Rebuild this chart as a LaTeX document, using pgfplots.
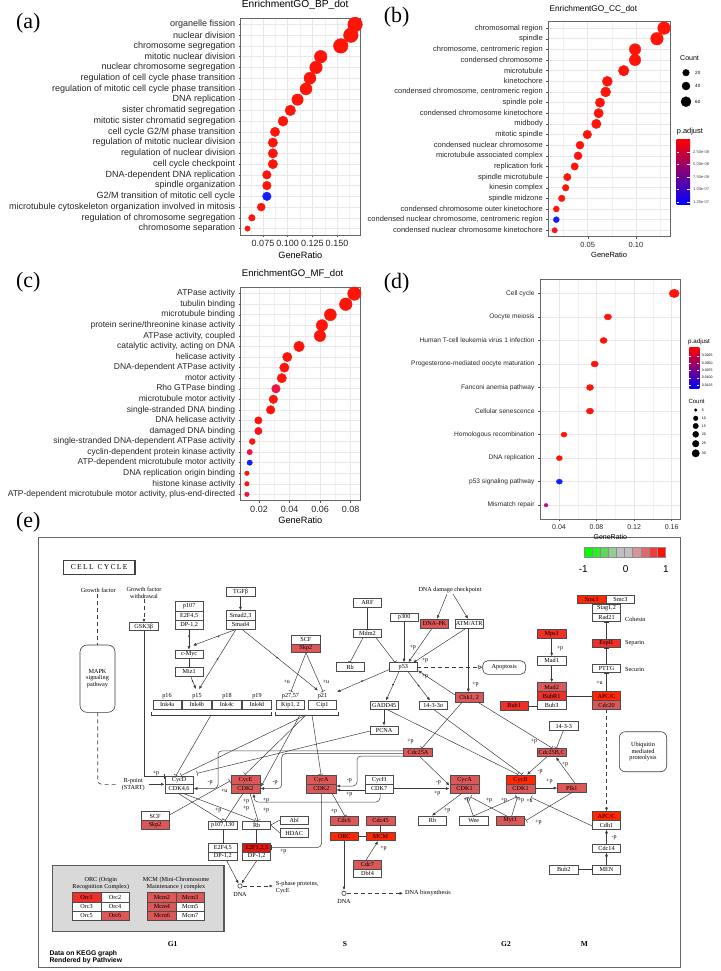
\documentclass[border=0pt]{standalone}
\usepackage{fontspec}
\setmainfont{Liberation Sans}
\newfontfamily\kf{Liberation Serif}
\usepackage{pgfplots}
\pgfplotsset{compat=1.18}
\usetikzlibrary{arrows.meta}
\definecolor{kmed}{RGB}{220,88,88}
\definecolor{kbri}{RGB}{255,40,0}
\definecolor{khi}{RGB}{238,48,42}
\definecolor{kdrk}{RGB}{225,25,15}
\definecolor{kline}{RGB}{60,60,60}
\definecolor{pred}{RGB}{255,0,0}
\definecolor{pmag}{RGB}{195,0,145}
\definecolor{pblu}{RGB}{0,0,255}
\pgfplotsset{
  colormap={rb}{rgb255=(255,20,10) rgb255=(232,20,80) rgb255=(195,10,145) rgb255=(140,10,200) rgb255=(20,30,255)},
  gdot/.style={
    scale only axis, anchor=north west, y dir=reverse,
    axis line style={draw=black!60, line width=0.5pt},
    tick align=outside, xtick pos=bottom, ytick pos=left,
    major tick length=2pt, minor tick length=0pt,
    tick style={draw=black!70, line width=0.4pt},
    xmajorgrids, ymajorgrids, xminorgrids,
    major grid style={draw=black!9, line width=0.55pt},
    minor grid style={draw=black!5, line width=0.3pt},
    colormap name=rb, point meta min=0, point meta max=1,
    tick label style={text=black!85},
    scaled x ticks=false,
    title style={at={(0,1)}, anchor=south west, inner sep=1pt, yshift=1.5pt},
    xlabel style={inner sep=1pt},
    ytick={0,...,19},
  },
  gsc/.style={scatter, only marks, mark=*, scatter src=explicit,
    scatter/use mapped color={draw=mapped color, fill=mapped color},
    visualization depends on={\thisrow{r} \as \rad},
    scatter/@pre marker code/.append style={/tikz/mark size=\rad}},
}
\tikzset{
  kt/.style={font=\kf\fontsize{6.2}{6.6}\selectfont, inner sep=0pt, align=center},
  pl/.style={font=\kf\fontsize{6}{6}\selectfont, inner sep=0pt},
  ar/.style={kline, line width=0.5pt, -{Latex[length=3.5pt,width=3pt]}},
  inh/.style={kline, line width=0.5pt, -{Bar[width=5pt]}},
  ln/.style={kline, line width=0.5pt},
  dsh/.style={kline, line width=0.6pt, dash pattern=on 4pt off 3pt},
}
\newcommand\kb[6]{\filldraw[fill=#5,draw=black!70,line width=0.45pt] (#1,#2) rectangle (#3,#4); \node[kt] at ({0.5*(#1+#3)},{0.5*(#2+#4)}) {#6};}
\begin{document}
\begin{tikzpicture}
\path[use as bounding box] (0pt,0pt) rectangle (720pt,-971pt);
% ---------------- frame axis: panel (e), legends, panel letters ----------------
\begin{axis}[at={(0pt,0pt)}, anchor=north west, scale only axis, width=720pt, height=971pt,
  xmin=0, xmax=720, ymin=0, ymax=971, y dir=reverse, hide axis, clip=false]
% panel letters
\node[font=\kf\fontsize{22}{22}\selectfont] at (28.3,23.3) {(a)};
\node[font=\kf\fontsize{22}{22}\selectfont] at (396.7,16.7) {(b)};
\node[font=\kf\fontsize{22}{22}\selectfont] at (28.3,281.7) {(c)};
\node[font=\kf\fontsize{22}{22}\selectfont] at (396.7,283.3) {(d)};
\node[font=\kf\fontsize{22}{22}\selectfont] at (28.3,521.7) {(e)};
% ---- legend of (b)
\node[anchor=west, font=\fontsize{7}{7}\selectfont, inner sep=0pt] at (680,58) {Count};
\addplot[only marks, mark=*, black, mark size=3.3pt] coordinates {(686,72.7)};
\addplot[only marks, mark=*, black, mark size=4pt] coordinates {(686,86)};
\addplot[only marks, mark=*, black, mark size=5pt] coordinates {(686,101.7)};
\node[anchor=west, font=\fontsize{4.6}{5}\selectfont, inner sep=0pt] at (695,72.7) {20};
\node[anchor=west, font=\fontsize{4.6}{5}\selectfont, inner sep=0pt] at (695,86) {40};
\node[anchor=west, font=\fontsize{4.6}{5}\selectfont, inner sep=0pt] at (695,101.7) {60};
\node[anchor=west, font=\fontsize{7.4}{7.4}\selectfont, inner sep=0pt] at (676.7,131.7) {p.adjust};
\shade[top color=pred, middle color=pmag, bottom color=pblu] (676.7,139.3) rectangle (690,204);
\foreach \yy/\tt in {151.7/2.50e-08,164.2/5.00e-08,176.7/7.50e-08,189.2/1.00e-07,201.7/1.25e-07}{
  \edef\temp{\noexpand\draw[white,line width=0.4pt] (676.7,\yy)--(679.3,\yy) (687.4,\yy)--(690,\yy);
  \noexpand\node[anchor=west, font=\noexpand\fontsize{4}{4}\noexpand\selectfont, inner sep=0pt, text=black!75] at (693,\yy) {\tt};}\temp}
% ---- legend of (d)
\node[anchor=west, font=\fontsize{6.2}{6.2}\selectfont, inner sep=0pt] at (688,341.7) {p.adjust};
\shade[top color=pred, middle color=pmag, bottom color=pblu] (689.3,347.3) rectangle (699.3,388.3);
\foreach \yy/\tt in {355.7/0.0025,363/0.0050,370.3/0.0075,377.7/0.0100,385.3/0.0125}{
  \edef\temp{\noexpand\draw[white,line width=0.3pt] (689.3,\yy)--(691.3,\yy) (697.3,\yy)--(699.3,\yy);
  \noexpand\node[anchor=west, font=\noexpand\fontsize{3.5}{3.5}\noexpand\selectfont, inner sep=0pt] at (701.7,\yy) {\tt};}\temp}
\node[anchor=west, font=\fontsize{6}{6}\selectfont, inner sep=0pt] at (688.3,401) {Count};
\addplot[only marks, mark=*, black, mark size=1.3pt] coordinates {(695.7,410)};
\addplot[only marks, mark=*, black, mark size=2.3pt] coordinates {(695.7,418.3)};
\addplot[only marks, mark=*, black, mark size=2.7pt] coordinates {(695.7,426)};
\addplot[only marks, mark=*, black, mark size=3pt] coordinates {(695.7,434.3)};
\addplot[only marks, mark=*, black, mark size=3.3pt] coordinates {(695.7,443.7)};
\addplot[only marks, mark=*, black, mark size=3.7pt] coordinates {(695.7,453.3)};
\foreach \yy/\tt in {410/5,418.3/10,426/15,434.3/20,443.7/25,453.3/30}{
  \edef\temp{\noexpand\node[anchor=west, font=\noexpand\fontsize{3.6}{3.6}\noexpand\selectfont, inner sep=0pt] at (701.7,\yy) {\tt};}\temp}
% ================= panel (e) =================
\draw[black!60, line width=1pt] (38.3,537) rectangle (680,967.7);
% colour key
\filldraw[fill={rgb,255:red,0;green,255;blue,0}, draw=black!45, line width=0.3pt] (584,546.7) rectangle (592.1,557.3);
\filldraw[fill={rgb,255:red,45;green,235;blue,45}, draw=black!45, line width=0.3pt] (592.1,546.7) rectangle (600.2,557.3);
\filldraw[fill={rgb,255:red,95;green,215;blue,95}, draw=black!45, line width=0.3pt] (600.2,546.7) rectangle (608.3,557.3);
\filldraw[fill={rgb,255:red,145;green,205;blue,145}, draw=black!45, line width=0.3pt] (608.3,546.7) rectangle (616.4,557.3);
\filldraw[fill={rgb,255:red,192;green,192;blue,192}, draw=black!45, line width=0.3pt] (616.4,546.7) rectangle (624.5,557.3);
\filldraw[fill={rgb,255:red,192;green,192;blue,192}, draw=black!45, line width=0.3pt] (624.5,546.7) rectangle (632.6,557.3);
\filldraw[fill={rgb,255:red,212;green,150;blue,150}, draw=black!45, line width=0.3pt] (632.6,546.7) rectangle (640.7,557.3);
\filldraw[fill={rgb,255:red,226;green,105;blue,105}, draw=black!45, line width=0.3pt] (640.7,546.7) rectangle (648.8,557.3);
\filldraw[fill={rgb,255:red,240;green,60;blue,60}, draw=black!45, line width=0.3pt] (648.8,546.7) rectangle (656.9,557.3);
\filldraw[fill={rgb,255:red,255;green,15;blue,0}, draw=black!45, line width=0.3pt] (656.9,546.7) rectangle (665,557.3);
\node[font=\fontsize{10}{10}\selectfont, inner sep=0pt] at (583.3,569.3) {-1};
\node[font=\fontsize{10}{10}\selectfont, inner sep=0pt] at (625.7,569.3) {0};
\node[font=\fontsize{10}{10}\selectfont, inner sep=0pt] at (666,569.3) {1};
% title box
\draw[black!75, line width=1.1pt] (63.3,560.7) rectangle (135,574.3);
\node[font=\kf\fontsize{7.6}{8}\selectfont, inner sep=0pt] at (99.2,567.5) {C\,E\,L\,L\ \ C\,Y\,C\,L\,E};
% growth factor
\node[kt] at (98.3,590) {Growth factor};
\node[kt, anchor=north] at (144,587) {Growth factor\\withdrawal};
\draw[dsh] (97.7,594) -- (97.7,645);
\draw[dsh, rounded corners=4pt] (97.7,712.3) |- (117,784.3);
\node[kt] at (133.3,784.7) {R-point\\(START)};
\draw[ar] (149,784.3) -- (164.5,784.3);
\draw[kline, line width=0.6pt, rounded corners=7pt] (80,645) rectangle (115,712.3);
\node[kt] at (97.5,678.5) {MAPK\\signaling\\pathway};
\draw[dsh, -{Latex[length=3.5pt,width=3pt]}] (144,599) -- (144,622.3);
\kb{129.3}{622.7}{158.3}{630.7}{white}{GSK3β}
\draw[inh] (144,630.7) |- (164.7,776.7);
\node[pl] at (156,773.3) {+p};
% p107 / TGFb
\kb{175}{601.7}{203.3}{610.9}{white}{p107}
\kb{175}{610.9}{203.3}{620.1}{white}{E2F4,5}
\kb{175}{620.1}{203.3}{629.3}{white}{DP-1,2}
\kb{226}{587.7}{255}{596.7}{white}{TGFβ}
\kb{226}{610.7}{255}{620}{white}{Smad2,3}
\kb{226}{620}{255}{629.3}{white}{Smad4}
\draw[ar] (240.5,596.7) -- (240.5,610.3);
\kb{175}{650}{203.3}{658.3}{white}{c-Myc}
\kb{175}{667.7}{203.3}{676}{white}{Miz1}
\draw[ar] (189,629.3) -- (189,649.6);
\fill[kline] (189,636) circle (1pt);
\draw[ar] (236,629.3) -- (193,645.5);
\fill[kline] (218.3,636.5) circle (1pt);
\draw[inh] (189,658.3) -- (189,667.4);
\draw[ar] (190.5,676) -- (196,689);
\fill[kline] (192.5,681) circle (1pt);
\draw[ar] (236,629.3) -- (199,689.2);
\fill[kline] (217.5,659) circle (1pt);
\draw[ar] (242,629.3) -- (318,690.5);
\fill[kline] (277,657.5) circle (1pt);
% Ink4 and CKI
\node[kt] at (167,696) {p16};
\node[kt] at (197,696) {p15};
\node[kt] at (227,696) {p18};
\node[kt] at (257,696) {p19};
\kb{153.3}{700.7}{181}{709}{white}{Ink4a}
\kb{182.7}{700.7}{211}{709}{white}{Ink4b}
\kb{212.7}{700.7}{241}{709}{white}{Ink4c}
\kb{242.7}{700.7}{271}{709}{white}{Ink4d}
\draw[ln] (151.7,711.7) -- (151.7,715) -- (271.7,715) -- (271.7,711.7);
\node[kt] at (290.5,696) {p27,57};
\node[kt] at (322.5,696) {p21};
\kb{276.7}{700.7}{304.3}{709}{white}{Kip1, 2}
\kb{308.3}{700.7}{336.7}{709}{white}{Cip1}
\draw[ln] (275,711.7) -- (275,715) -- (338.3,715) -- (338.3,711.7);
\kb{291.7}{635}{320}{643.8}{white}{SCF}
\kb{291.7}{643.8}{320}{652.7}{kmed}{Skp2}
\draw[inh] (306,652.7) -- (291,691.5);
\draw[inh] (306,652.7) -- (323,691.5);
\node[pl] at (286.7,681.7) {+u};
\node[pl] at (326,681.7) {+u};
% p53 block
\kb{353.3}{598}{381.7}{607.7}{white}{ARF}
\kb{353.3}{629.3}{381.7}{637.7}{white}{Mdm2}
\kb{336}{662.7}{364.3}{671.7}{white}{Rb}
\draw[inh] (367.5,607.7) -- (367.5,629);
\draw[inh] (363,637.7) -- (350,662.4);
\draw[inh] (376,637.7) -- (395,662.4);
\node[kt] at (450,590) {DNA damage checkpoint};
\kb{390}{613.3}{418.3}{621.7}{white}{p300}
\kb{420.7}{619.3}{448.3}{628.3}{kmed}{DNA-PK}
\kb{455}{619.3}{483.3}{628.3}{white}{ATM/ATR}
\draw[ar] (447,594) -- (437,618.8);
\draw[ar] (453,594) -- (468,618.8);
\kb{389.3}{662.7}{417.3}{671.7}{white}{p53}
\draw[ar] (404,621.7) -- (404,662.2);
\draw[ar] (432,628.3) -- (408.5,662.2);
\draw[ar] (466,628.3) -- (413,662.8);
\node[pl] at (412.7,647.3) {+p};
\node[pl] at (425,660.7) {+p};
\draw[ar] (468.3,628.3) -- (468.3,692.2);
\node[pl] at (475.5,684) {+p};
\kb{455}{692.7}{483.3}{702.3}{kmed}{Chk1, 2}
\draw[ar] (455,695) -- (418,670.5);
\node[pl] at (425,676.5) {+p};
\draw[dsh, -{Triangle[open,length=4pt,width=4pt]}] (417.3,667.2) -- (482.3,667.2);
\draw[kline, line width=0.6pt, rounded corners=5pt] (482.7,660.7) rectangle (525.7,674.3);
\node[kt] at (504.2,667.5) {Apoptosis};
\kb{370}{701}{398.3}{709}{white}{GADD45}
\kb{419.3}{701}{447.3}{709}{white}{14-3-3σ}
\draw[ar] (399,671.7) -- (386,700.5);
\fill[kline] (393,684.5) circle (1pt);
\draw[ar] (408,671.7) -- (430,700.5);
\fill[kline] (418.5,685.5) circle (1pt);
\draw[ar] (389.3,669.5) -- (337,692);
\fill[kline] (362,681) circle (1pt);
\kb{370}{726}{398.3}{734.3}{white}{PCNA}
\draw[ar] (384,709) -- (384,725.5);
\draw[inh] (370,731) -- (197,773.3);
\draw[inh] (386,709) -- (518,774.5);
\draw[inh] (433,709) -- (522,774.5);
\kb{403.3}{748.3}{432.7}{756.7}{kmed}{Cdc25A}
\kb{537.3}{748.3}{566}{756.7}{kmed}{Cdc25B,C}
\kb{549.3}{721.7}{578.3}{730.7}{white}{14-3-3}
\draw[inh] (462,702.3) -- (422,748);
\draw[inh] (478,702.3) -- (552,748);
\draw[inh] (563.3,730.7) -- (556.5,748);
\node[pl] at (410.5,741.7) {+p};
\node[pl] at (534,741.7) {+p};
% spindle checkpoint
\kb{537.3}{629.3}{566}{638.3}{khi}{Mps1}
\kb{537.3}{656.7}{566}{665}{white}{Mad1}
\kb{537.3}{682.7}{566}{691.7}{kmed}{Mad2}
\kb{537.3}{691.7}{566}{700.7}{khi}{BubR1}
\kb{537.3}{700.7}{566}{709.7}{white}{Bub3}
\kb{500}{701.7}{528.3}{710}{khi}{Bub1}
\draw[ar] (551.7,638.3) -- (551.7,656.3);
\node[pl] at (560,648) {+p};
\draw[ar] (551.7,665) -- (551.7,682.3);
\draw[ln] (528.3,705.8) -- (537.3,705.8);
\draw[inh] (566,696) -- (592,696);
\kb{592.3}{691.7}{620.7}{700.5}{kbri}{APC/C}
\kb{592.3}{700.5}{620.7}{709.3}{kmed}{Cdc20}
\kb{577.3}{595}{606}{603.3}{kbri}{Smc1}
\kb{606.7}{595}{634.3}{603.3}{white}{Smc3}
\kb{592.3}{604}{620.7}{612.8}{white}{Stag1,2}
\kb{592.3}{612.8}{620.7}{621.7}{white}{Rad21}
\kb{592.3}{639}{620.7}{647.3}{khi}{Espl1}
\kb{592.3}{664.3}{620.7}{672.7}{white}{PTTG}
\node[kt, anchor=west] at (625,619) {Cohesin};
\node[kt, anchor=west] at (625,643.3) {Separin};
\node[kt, anchor=west] at (625,669.3) {Securin};
\draw[inh] (606.5,691.7) -- (606.5,673);
\node[pl] at (599.5,682.5) {+u};
\draw[inh] (606.5,664.3) -- (606.5,647.7);
\draw[inh] (606.5,639) -- (606.5,622.1);
\draw[dsh, -{Latex[length=3.5pt,width=3pt]}] (606.5,709.3) -- (606.5,811.2);
\draw[kline, line width=0.6pt, rounded corners=6pt] (619.3,731.7) rectangle (666.7,771.7);
\node[kt] at (643,751.7) {Ubiquitin\\mediated\\proteolysis};
% cyclins
\kb{165}{776}{193.3}{784.7}{white}{CycD}
\kb{165}{784.7}{193.3}{793.3}{white}{CDK4,6}
\kb{231}{775}{260}{784.2}{kmed}{CycE}
\kb{231}{784.2}{260}{793.3}{kmed}{CDK2}
\kb{306.7}{775}{336}{784.2}{kmed}{CycA}
\kb{306.7}{784.2}{336}{793.3}{kmed}{CDK2}
\kb{365}{775.7}{393.3}{784.5}{white}{CycH}
\kb{365}{784.5}{393.3}{793.3}{white}{CDK7}
\kb{450}{775}{479}{784.2}{kmed}{CycA}
\kb{450}{784.2}{479}{793.3}{kmed}{CDK1}
\kb{506}{775}{535}{784.2}{kbri}{CycB}
\kb{506}{784.2}{535}{793.3}{kmed}{CDK1}
\kb{557.7}{783.3}{586}{792.7}{kmed}{Plk1}
% CKI -> cyclins
\draw[inh] (211,715) -- (176,775.5);
\draw[inh] (306,715) -- (181,775.5);
\draw[inh] (306,715) -- (245,774.5);
\draw[inh] (312,715) -- (321,774.5);
\draw[ar] (300,715) -- (261,786.5);
% Cdc25A long paths
\draw[ar, rounded corners=4pt] (403.3,750.8) -- (218,750.8) -- (218,788.5) -- (193.8,788.5);
\draw[ar, rounded corners=4pt] (403.3,753.4) -- (281.7,753.4) -- (281.7,788.5) -- (260.5,788.5);
\draw[ar, rounded corners=4pt] (403.3,756) -- (357,756) -- (357,786) -- (336.5,786);
\node[pl] at (210,782.5) {-p};
\node[pl] at (275,782.5) {-p};
\node[pl] at (349.3,781) {-p};
\draw[ar] (365,790) -- (336.5,790);
\node[pl] at (349.3,794.5) {+p};
\draw[ar, rounded corners=4pt] (380,793.3) -- (380,802) -- (254,802) -- (254,793.8);
\node[pl] at (266,800) {+p};
\draw[ar] (420,756.7) -- (449.5,785.5);
\draw[ar] (393.3,788.5) -- (449.5,788.5);
\node[pl] at (438.3,782.5) {-p};
\node[pl] at (437.3,793.5) {+p};
\draw[ar] (535,788) -- (557.2,788);
\node[pl] at (549.3,781.7) {+p};
\draw[ar] (575,783.3) -- (556,757.3);
\node[pl] at (565,764.3) {+p};
\draw[ar] (547,756.7) -- (527,774.6);
\node[pl] at (540,772) {-p};
% lower G1
\kb{141}{811.7}{169.3}{820.5}{white}{SCF}
\kb{141}{820.5}{169.3}{829.3}{kmed}{Skp2}
\draw[inh] (169.3,815) -- (230,781);
\node[pl] at (224.3,791) {+u};
\kb{208.3}{821}{237.3}{829.3}{white}{p107,130}
\kb{242.7}{821}{270.7}{829.3}{white}{Rb}
\kb{280}{816}{308.3}{824}{white}{Abl}
\kb{280}{828.7}{308.3}{837.3}{white}{HDAC}
\draw[ln] (280,820) -- (270.7,825) -- (280,833);
\draw[inh] (178,793.3) -- (222,820.6);
\draw[inh] (183,793.3) -- (255,820.6);
\draw[inh] (243,793.3) -- (225,820.6);
\draw[inh] (250,793.3) -- (258,820.6);
\node[pl] at (218.3,810.5) {+p};
\node[pl] at (246,801.5) {+p};
\node[pl] at (246,808) {+p};
\node[pl] at (266,810.5) {+p};
\kb{208.3}{843.3}{237.3}{852}{white}{E2F4,5}
\kb{208.3}{852}{237.3}{860.7}{white}{DP-1,2}
\kb{242.7}{843.3}{270.7}{852}{kdrk}{E2F1,2,3}
\kb{242.7}{852}{270.7}{860.7}{white}{DP-1,2}
\draw[inh] (222.8,829.3) -- (222.8,843);
\draw[inh] (256.7,829.3) -- (256.7,843);
\draw[inh, rounded corners=4pt] (321.5,793.3) |- (271,847.5);
\node[pl] at (283.3,851) {+p};
\draw[ar] (226.7,860.7) -- (238.5,883.5);
\draw[ar] (256.7,860.7) -- (241.5,883.5);
\draw[kline, line width=0.6pt, fill=white] (240,886) circle (2.2pt);
\node[kt] at (240,894.7) {DNA};
\draw[dsh, -{Latex[length=3.5pt,width=3pt]}] (242.5,886) -- (273,886);
\node[kt, anchor=west, align=left] at (275.7,887.7) {S-phase proteins,\\CycE};
% S phase
\kb{330}{816.7}{358.3}{825}{kmed}{Cdc6}
\kb{330}{832.3}{358.3}{840.7}{kbri}{ORC}
\kb{366}{816.7}{395}{825}{kmed}{Cdc45}
\kb{366}{832.3}{395}{840.7}{kbri}{MCM}
\kb{353.3}{860}{381.7}{868.8}{kmed}{Cdc7}
\kb{353.3}{868.8}{381.7}{877.7}{white}{Dbf4}
\draw[inh] (332,793.3) -- (345,816.3);
\node[pl] at (334,811) {+p};
\draw[ln] (358.3,836.5) -- (366,836.5);
\draw[ln] (380.5,825) -- (380.5,832.3);
\draw[ar] (366,860) -- (378,841.2);
\node[pl] at (383.5,848.3) {+p};
\draw[ar] (344,840.7) -- (344,890);
\draw[kline, line width=0.6pt, fill=white] (344,893.3) circle (2.2pt);
\node[kt] at (344,901.3) {DNA};
\draw[dsh, -{Latex[length=3.5pt,width=3pt]}] (346.5,893.3) -- (403,893.3);
\node[kt, anchor=west] at (405,893.3) {DNA biosynthesis};
% G2/M lower
\kb{418.3}{816}{446.7}{825}{white}{Rb}
\kb{459.3}{816}{488.3}{825}{white}{Wee}
\kb{496}{816}{524.3}{825}{kmed}{Myt1}
\draw[ar] (462,793.3) -- (432,815.6);
\node[pl] at (447.3,810.5) {+p};
\draw[inh] (473.3,816) -- (466.7,797.5);
\draw[inh] (473.3,816) -- (516.7,797);
\draw[inh] (506.7,816) -- (470.5,797);
\draw[inh] (511.7,816) -- (517.5,797);
\node[pl] at (467,800.5) {+p};
\node[pl] at (489,800.5) {+p};
\node[pl] at (504,800.5) {+p};
\node[pl] at (521,800.5) {+p};
\draw[inh] (571.7,792.7) -- (526,820.5);
\node[pl] at (538.5,822) {+p};
\kb{592.3}{811.7}{620.7}{820.5}{kbri}{APC/C}
\kb{592.3}{820.5}{620.7}{829.3}{white}{Cdh1}
\draw[inh] (592.3,826) -- (531,797.5);
\node[pl] at (529.5,801) {+u};
\kb{592.3}{844}{620.7}{852.3}{white}{Cdc14}
\kb{592.3}{865}{620.7}{874}{white}{MEN}
\kb{549.3}{865}{578.3}{874}{white}{Bub2}
\draw[ar] (606.5,844) -- (606.5,829.8);
\node[pl] at (614,838) {-p};
\draw[ar] (606.5,865) -- (606.5,852.8);
\draw[inh] (578.3,869.5) -- (592,869.5);
% ORC / MCM inset
\filldraw[fill=black!15, draw=black!65, line width=1.2pt] (52.7,865.7) rectangle (224,931.7);
\node[kt] at (100.8,883.7) {ORC (Origin\\Recognition Complex)};
\node[kt] at (176,883.7) {MCM (Mini-Chromosome\\Maintenance ) complex};
\kb{72.3}{892.7}{100.8}{901.8}{khi}{Orc1}
\kb{100.8}{892.7}{129.3}{901.8}{white}{Orc2}
\kb{72.3}{901.8}{100.8}{910.9}{white}{Orc3}
\kb{100.8}{901.8}{129.3}{910.9}{white}{Orc4}
\kb{72.3}{910.9}{100.8}{920}{white}{Orc5}
\kb{100.8}{910.9}{129.3}{920}{kmed}{Orc6}
\kb{147.7}{892.7}{176}{901.8}{kmed}{Mcm2}
\kb{176}{892.7}{204.3}{901.8}{kmed}{Mcm3}
\kb{147.7}{901.8}{176}{910.9}{kmed}{Mcm4}
\kb{176}{901.8}{204.3}{910.9}{white}{Mcm5}
\kb{147.7}{910.9}{176}{920}{kmed}{Mcm6}
\kb{176}{910.9}{204.3}{920}{white}{Mcm7}
% phases and footer
\node[font=\kf\bfseries\fontsize{7.5}{8}\selectfont, inner sep=0pt] at (172.7,944) {G1};
\node[font=\kf\bfseries\fontsize{7.5}{8}\selectfont, inner sep=0pt] at (345,944) {S};
\node[font=\kf\bfseries\fontsize{7.5}{8}\selectfont, inner sep=0pt] at (506,944) {G2};
\node[font=\kf\bfseries\fontsize{7.5}{8}\selectfont, inner sep=0pt] at (584.3,944) {M};
\node[font=\bfseries\fontsize{6.8}{7}\selectfont, inner sep=0pt, anchor=west] at (49.3,953.3) {Data on KEGG graph};
\node[font=\bfseries\fontsize{6.8}{7}\selectfont, inner sep=0pt, anchor=west] at (49.3,961) {Rendered by Pathview};
\end{axis}
% ---------------- panel (a) ----------------
\begin{axis}[gdot, at={(240.7pt,-18pt)}, width=119.3pt, height=217pt,
  xmin=0.0524, xmax=0.1733, ymin=-0.6, ymax=19.6,
  xtick={0.075,0.1,0.125,0.15}, xticklabels={0.075,0.100,0.125,0.150},
  minor xtick={0.0625,0.0875,0.1125,0.1375,0.1625},
  yticklabels={organelle fission, nuclear division, chromosome segregation, mitotic nuclear division, nuclear chromosome segregation, regulation of cell cycle phase transition, regulation of mitotic cell cycle phase transition, DNA replication, sister chromatid segregation, mitotic sister chromatid segregation, cell cycle G2/M phase transition, regulation of mitotic nuclear division, regulation of nuclear division, cell cycle checkpoint, DNA-dependent DNA replication, spindle organization, G2/M transition of mitotic cell cycle, microtubule cytoskeleton organization involved in mitosis, regulation of chromosome segregation, chromosome separation},
  tick label style={font=\fontsize{9}{10}\selectfont},
  title={EnrichmentGO\_BP\_dot}, title style={font=\fontsize{10.2}{11}\selectfont},
  xlabel={GeneRatio}, xlabel style={font=\fontsize{9.2}{10}\selectfont}]
\addplot[gsc] table[x=x, y=y, meta=p] {
x y r p
0.1683 0 7.3 0
0.1640 1 7.3 0
0.1538 2 7.3 0
0.1335 3 6.3 0
0.1287 4 6.3 0
0.1226 5 6.0 0
0.1186 6 6.0 0
0.1100 7 5.7 0
0.1027 8 5.3 0
0.0953 9 5.0 0
0.0872 10 4.7 0
0.0850 11 4.7 0
0.0850 12 4.7 0
0.0850 13 4.7 0
0.0789 14 4.3 0
0.0789 15 4.3 0
0.0789 16 4.3 1
0.0732 17 4.0 0
0.0637 18 3.3 0
0.0593 19 2.7 0
};
\end{axis}
% ---------------- panel (b) ----------------
\begin{axis}[gdot, at={(548.3pt,-21.7pt)}, width=121.7pt, height=215pt,
  xmin=0.0092, xmax=0.1352, ymin=-0.6, ymax=19.6,
  xtick={0.05,0.1}, xticklabels={0.05,0.10},
  minor xtick={0.025,0.075,0.125},
  yticklabels={chromosomal region, spindle, {chromosome, centromeric region}, condensed chromosome, microtubule, kinetochore, {condensed chromosome, centromeric region}, spindle pole, condensed chromosome kinetochore, midbody, mitotic spindle, condensed nuclear chromosome, microtubule associated complex, replication fork, spindle microtubule, kinesin complex, spindle midzone, condensed chromosome outer kinetochore, {condensed nuclear chromosome, centromeric region}, condensed nuclear chromosome kinetochore},
  tick label style={font=\fontsize{7.5}{8}\selectfont},
  title={EnrichmentGO\_CC\_dot}, title style={font=\fontsize{8.3}{9}\selectfont},
  xlabel={GeneRatio}, xlabel style={font=\fontsize{7.5}{8}\selectfont}]
\addplot[gsc] table[x=x, y=y, meta=p] {
x y r p
0.1290 0 6.3 0
0.1217 1 6.3 0
0.0990 2 5.7 0
0.0990 3 5.7 0
0.0873 4 5.3 0
0.0703 5 5.0 0
0.0686 6 5.0 0
0.0627 7 4.7 0
0.0613 8 4.7 0
0.0589 9 4.7 0
0.0496 10 4.3 0
0.0420 11 4.0 0
0.0400 12 4.0 0.03
0.0365 13 3.7 0
0.0289 14 3.7 0
0.0272 15 3.3 0
0.0231 16 3.3 0
0.0175 17 3.0 0
0.0175 18 3.0 1
0.0158 19 2.7 0.05
};
\end{axis}
% ---------------- panel (c) ----------------
\begin{axis}[gdot, at={(240.7pt,-287.3pt)}, width=119.3pt, height=213.4pt,
  xmin=0.00802, xmax=0.0861, ymin=-0.6, ymax=19.6,
  xtick={0.02,0.04,0.06,0.08}, xticklabels={0.02,0.04,0.06,0.08},
  minor xtick={0.01,0.03,0.05,0.07},
  yticklabels={ATPase activity, tubulin binding, microtubule binding, protein serine/threonine kinase activity, {ATPase activity, coupled}, {catalytic activity, acting on DNA}, helicase activity, DNA-dependent ATPase activity, motor activity, Rho GTPase binding, microtubule motor activity, single-stranded DNA binding, DNA helicase activity, damaged DNA binding, single-stranded DNA-dependent ATPase activity, cyclin-dependent protein kinase activity, ATP-dependent microtubule motor activity, DNA replication origin binding, histone kinase activity, {ATP-dependent microtubule motor activity, plus-end-directed}},
  yticklabel style={font=\fontsize{8.5}{9.5}\selectfont},
  xticklabel style={font=\fontsize{9}{10}\selectfont},
  title={EnrichmentGO\_MF\_dot}, title style={font=\fontsize{9.6}{10}\selectfont},
  xlabel={GeneRatio}, xlabel style={font=\fontsize{9.2}{10}\selectfont}]
\addplot[gsc] table[x=x, y=y, meta=p] {
x y r p
0.0824 0 6.7 0
0.0768 1 6.3 0
0.0667 2 6.0 0
0.0612 3 5.7 0
0.0599 4 5.7 0
0.0462 5 5.3 0
0.0385 6 4.7 0
0.0366 7 4.7 0
0.0349 8 4.7 0
0.0311 9 4.3 0.2
0.0294 10 4.3 0
0.0276 11 4.3 0
0.0196 12 3.7 0
0.0196 13 3.7 0.06
0.0156 14 3.0 0.02
0.0139 15 2.7 0.25
0.0139 16 2.7 1
0.0121 17 2.3 0
0.0121 18 2.3 0
0.0121 19 2.3 0.2
};
\end{axis}
% ---------------- panel (d) ----------------
\begin{axis}[gdot, at={(540pt,-279.3pt)}, width=140.7pt, height=240pt,
  xmin=0.0198, xmax=0.1696, ymin=-0.6, ymax=9.6,
  ytick={0,...,9},
  xtick={0.04,0.08,0.12,0.16}, xticklabels={0.04,0.08,0.12,0.16},
  minor xtick={0.02,0.06,0.10,0.14},
  yticklabels={Cell cycle, Oocyte meiosis, Human T-cell leukemia virus 1 infection, Progesterone-mediated oocyte maturation, Fanconi anemia pathway, Cellular senescence, Homologous recombination, DNA replication, p53 signaling pathway, Mismatch repair},
  yticklabel style={font=\fontsize{6.6}{7}\selectfont},
  xticklabel style={font=\fontsize{7}{7.5}\selectfont},
  xlabel={GeneRatio}, xlabel style={font=\fontsize{7}{7.5}\selectfont}]
\addplot[gsc, scatter/@pre marker code/.append style={/tikz/xscale=1.2}] table[x=x, y=y, meta=p] {
x y r p
0.1627 0 4.2 0
0.0921 1 3.0 0
0.0875 2 3.0 0
0.0780 3 3.0 0
0.0730 4 3.0 0
0.0730 5 3.0 0
0.0453 6 2.5 0
0.0404 7 2.5 0
0.0404 8 2.5 1
0.0262 9 1.7 0.5
};
\end{axis}
\end{tikzpicture}
\end{document}
